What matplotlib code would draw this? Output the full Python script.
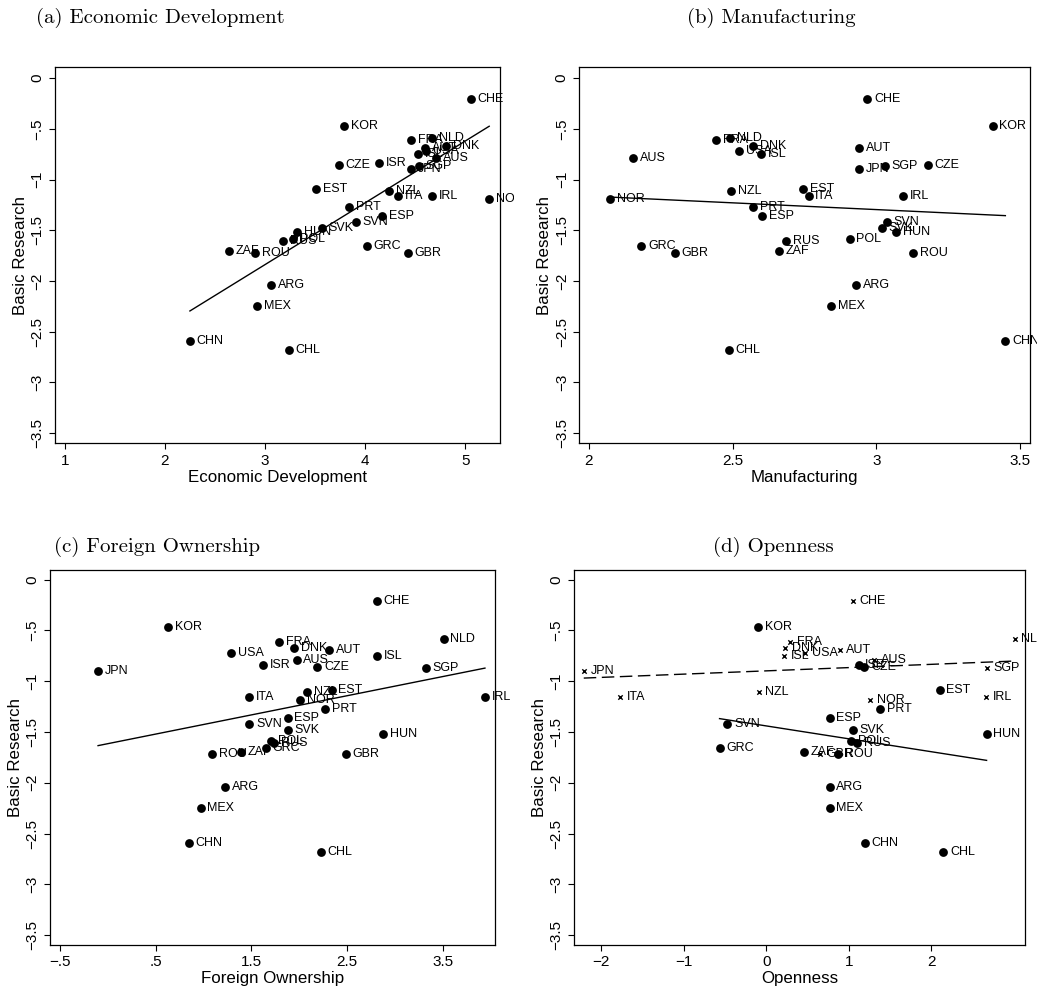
import numpy as np
import matplotlib
matplotlib.use("Agg")
import matplotlib.pyplot as plt
from matplotlib.transforms import Bbox, TransformedBbox

plt.rcParams["font.family"] = ["Liberation Sans", "DejaVu Sans"]

countries = ["CHE", "KOR", "NLD", "FRA", "DNK", "AUT", "USA", "ISL", "AUS", "ISR", "CZE",
             "SGP", "JPN", "EST", "NZL", "ITA", "IRL", "NOR", "PRT", "ESP", "SVN", "SVK",
             "HUN", "POL", "RUS", "GRC", "ZAF", "ROU", "GBR", "ARG", "MEX", "CHN", "CHL"]

basic_research = [-0.21, -0.47, -0.59, -0.61, -0.67, -0.69, -0.72, -0.75, -0.79, -0.84, -0.86,
                  -0.87, -0.90, -1.09, -1.11, -1.16, -1.16, -1.19, -1.27, -1.36, -1.42, -1.48,
                  -1.52, -1.59, -1.61, -1.66, -1.70, -1.72, -1.72, -2.04, -2.25, -2.59, -2.68]

econ_dev = [5.06, 3.79, 4.67, 4.46, 4.81, 4.60, 4.61, 4.53, 4.71, 4.14, 3.74,
            4.54, 4.46, 3.51, 4.24, 4.33, 4.67, 5.24, 3.84, 4.17, 3.91, 3.57,
            3.32, 3.28, 3.18, 4.02, 2.64, 2.90, 4.43, 3.06, 2.92, 2.25, 3.24]

# no manufacturing value for ISR
manufacturing = [2.968, 3.404, 2.491, 2.444, 2.572, 2.940, 2.523, 2.600, 2.155, np.nan, 3.179,
                 3.030, 2.941, 2.745, 2.495, 2.764, 3.092, 2.075, 2.571, 2.603, 3.037, 3.020,
                 3.068, 2.907, 2.687, 2.183, 2.661, 3.127, 2.300, 2.930, 2.843, 3.448, 2.486]

foreign_own = [2.81, 0.63, 3.51, 1.79, 1.95, 2.31, 1.29, 2.81, 1.975, 1.62, 2.19,
               3.32, -0.10, 2.34, 2.08, 1.48, 3.94, 2.01, 2.27, 1.88, 1.48, 1.88,
               2.88, 1.71, 1.74, 1.65, 1.39, 1.09, 2.49, 1.23, 0.97, 0.85, 2.23]

openness = [1.05, -0.10, 3.01, 0.29, 0.23, 0.89, 0.47, 0.22, 1.31, 1.12, 1.19,
            2.67, -2.21, 2.10, -0.09, -1.77, 2.66, 1.26, 1.38, 0.77, -0.47, 1.05,
            2.67, 1.03, 1.10, -0.565, 0.46, 0.87, 0.65, 0.77, 0.77, 1.195, 2.145]

# group drawn with small crosses and the dashed fit in panel (d)
cross_group = ["CHE", "NLD", "FRA", "DNK", "AUT", "USA", "ISL", "AUS", "SGP", "JPN",
               "NZL", "ITA", "IRL", "NOR", "GBR"]

y_ticks = [0, -0.5, -1, -1.5, -2, -2.5, -3, -3.5]
y_ticklabels = ["0", "\u2212.5", "\u22121", "\u22121.5", "\u22122", "\u22122.5", "\u22123", "\u22123.5"]

W, H = 1037, 986
fig = plt.figure(figsize=(W / 100, H / 100), dpi=100)


def px_axes(left, top, right, bottom):
    return fig.add_axes([left / W, 1 - bottom / H, (right - left) / W, (bottom - top) / H])


def px_clip(left, top, right, bottom):
    return TransformedBbox(Bbox.from_extents(left / W, 1 - bottom / H, right / W, 1 - top / H),
                           fig.transFigure)


def style_axes(ax, xticks, xticklabels, xlim, ylim, xlabel):
    ax.set_xlim(*xlim)
    ax.set_ylim(*ylim)
    ax.set_xticks(xticks)
    ax.set_xticklabels(xticklabels, fontsize=11)
    ax.set_yticks(y_ticks)
    ax.set_yticklabels(y_ticklabels, rotation=90, va="center", fontsize=11)
    ax.tick_params(direction="out", length=4, width=0.8, pad=3.5)
    for s in ax.spines.values():
        s.set_linewidth(0.9)
    ax.set_xlabel(xlabel, fontsize=12.2, labelpad=1.5)
    ax.set_ylabel("Basic Research", fontsize=12.2, labelpad=2)


def label_points(ax, xs, ys, names, clip):
    for x, y, n in zip(xs, ys, names):
        if np.isnan(x):
            continue
        t = ax.annotate(n, (x, y), xytext=(4.8, 0), textcoords="offset points",
                        fontsize=9, va="center", ha="left", annotation_clip=False)
        t.set_clip_box(clip)
        t.set_clip_on(True)


def fit_line(ax, xs, ys, dashed=False):
    xs = np.asarray(xs, float)
    ys = np.asarray(ys, float)
    ok = ~np.isnan(xs)
    b, a = np.polyfit(xs[ok], ys[ok], 1)
    xx = np.array([xs[ok].min(), xs[ok].max()])
    line, = ax.plot(xx, a + b * xx, color="black", lw=1.0)
    if dashed:
        line.set_dashes((9, 4))


def scatter_panel(ax, xs, clip):
    xs = np.asarray(xs, float)
    ax.scatter(xs, basic_research, s=40, color="black", zorder=3, linewidths=0)
    label_points(ax, xs, basic_research, countries, clip)
    fit_line(ax, xs, basic_research)


serif = {"family": "cmr10", "fontsize": 15}
fig.text(160 / W, 1 - 18 / H, "(a) Economic Development", ha="center", va="center", **serif)
fig.text(771 / W, 1 - 18 / H, "(b) Manufacturing", ha="center", va="center", **serif)
fig.text(157 / W, 1 - 547 / H, "(c) Foreign Ownership", ha="center", va="center", **serif)
fig.text(773 / W, 1 - 547 / H, "(d) Openness", ha="center", va="center", **serif)

# (a) economic development
ax = px_axes(54.8, 67, 500.2, 443.2)
scatter_panel(ax, econ_dev, px_clip(0, 30, 514, 490))
style_axes(ax, [1, 2, 3, 4, 5], ["1", "2", "3", "4", "5"], (0.9, 5.35), (-3.6, 0.11),
           "Economic Development")

# (b) manufacturing
ax = px_axes(579.2, 67, 1030.4, 443.2)
scatter_panel(ax, manufacturing, px_clip(520, 30, 1037, 490))
style_axes(ax, [2, 2.5, 3, 3.5], ["2", "2.5", "3", "3.5"], (1.967, 3.535), (-3.6, 0.11),
           "Manufacturing")

# (c) foreign ownership
ax = px_axes(50, 570.1, 495.2, 944.6)
scatter_panel(ax, foreign_own, px_clip(0, 560, 514, 986))
style_axes(ax, [-0.5, 0.5, 1.5, 2.5, 3.5], ["\u2212.5", ".5", "1.5", "2.5", "3.5"],
           (-0.602, 4.047), (-3.593, 0.093), "Foreign Ownership")

# (d) openness, split into two groups with separate fits
ax = px_axes(574.1, 570.1, 1025.3, 944.6)
is_cross = np.array([c in cross_group for c in countries])
op = np.asarray(openness, float)
br = np.asarray(basic_research, float)
ax.scatter(op[is_cross], br[is_cross], marker="x", s=10, color="black", linewidths=1.0, zorder=3)
ax.scatter(op[~is_cross], br[~is_cross], s=40, color="black", linewidths=0, zorder=3)
label_points(ax, op, br, countries, px_clip(520, 560, 1037, 986))
fit_line(ax, op[is_cross], br[is_cross], dashed=True)
fit_line(ax, op[~is_cross], br[~is_cross])
style_axes(ax, [-2, -1, 0, 1, 2], ["\u22122", "\u22121", "0", "1", "2"],
           (-2.327, 3.139), (-3.593, 0.093), "Openness")

fig.savefig("out.png", dpi=100)
